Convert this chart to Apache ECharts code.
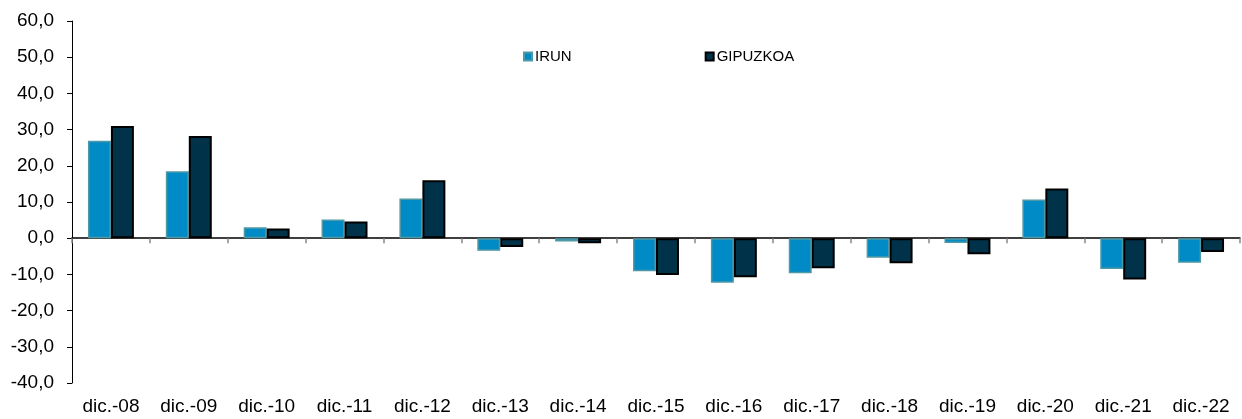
<!DOCTYPE html>
<html>
<head>
<meta charset="utf-8">
<script src="https://cdn.jsdelivr.net/npm/echarts@6/dist/echarts.min.js"></script>
<style>
html,body{margin:0;padding:0;background:#fff;}
#chart{width:1242px;height:419px;}
</style>
</head>
<body>
<div id="chart"></div>
<script>
var categories = ['dic.-08','dic.-09','dic.-10','dic.-11','dic.-12','dic.-13','dic.-14','dic.-15','dic.-16','dic.-17','dic.-18','dic.-19','dic.-20','dic.-21','dic.-22'];
var irun = [26.9, 18.5, 3.0, 5.2, 11.0, -3.5, -0.9, -9.1, -12.3, -9.7, -5.4, -1.3, 10.7, -8.5, -6.8];
var gipuzkoa = [31.0, 28.2, 2.7, 4.6, 16.0, -2.4, -1.4, -10.2, -10.8, -8.3, -6.9, -4.4, 13.7, -11.4, -3.8];
var seriesNames = ['IRUN', 'GIPUZKOA'];

var chart = echarts.init(document.getElementById('chart'));
chart.setOption({
  animation: false,
  backgroundColor: '#ffffff',
  textStyle: { fontFamily: 'Liberation Sans, Arial, sans-serif' },
  grid: { left: 72, right: 2, top: 21, bottom: 36, containLabel: false, outerBoundsMode: 'none' },
  legend: {
    data: seriesNames,
    left: 523,
    top: 49,
    padding: 0,
    itemWidth: 8,
    itemHeight: 8,
    itemGap: 133,
    icon: 'rect',
    textStyle: { fontSize: 15, color: '#000', padding: [0, 0, 0, -2] }
  },
  xAxis: [{
    type: 'category',
    data: categories,
    position: 'bottom',
    axisLine: { show: false, onZero: false },
    axisTick: { show: false },
    axisLabel: { fontSize: 19, color: '#000', margin: 14, interval: 0 }
  }, {
    type: 'category',
    data: categories,
    position: 'bottom',
    axisLine: { show: true, onZero: true, lineStyle: { color: '#000', width: 1.5 } },
    axisTick: { show: true, length: 5, lineStyle: { color: '#888', width: 1.5 } },
    axisLabel: { show: false }
  }],
  yAxis: {
    type: 'value',
    min: -40,
    max: 60,
    interval: 10,
    splitLine: { show: false },
    axisLine: { show: true, lineStyle: { color: '#000', width: 1 } },
    axisTick: { show: true, length: 5, lineStyle: { color: '#000' } },
    axisLabel: {
      fontSize: 19, color: '#000', margin: 18,
      formatter: function (v) { return v.toFixed(1).replace('.', ','); }
    }
  },
  series: [{
    name: seriesNames[0],
    type: 'bar',
    xAxisIndex: 0,
    data: irun,
    barGap: '0%',
    barCategoryGap: '41%',
    itemStyle: { color: '#008ac6', borderColor: '#4f98a5', borderWidth: 1.5 }
  }, {
    name: seriesNames[1],
    type: 'bar',
    xAxisIndex: 0,
    data: gipuzkoa,
    itemStyle: { color: '#00334a', borderColor: '#000', borderWidth: 2 }
  }]
});
</script>
</body>
</html>
